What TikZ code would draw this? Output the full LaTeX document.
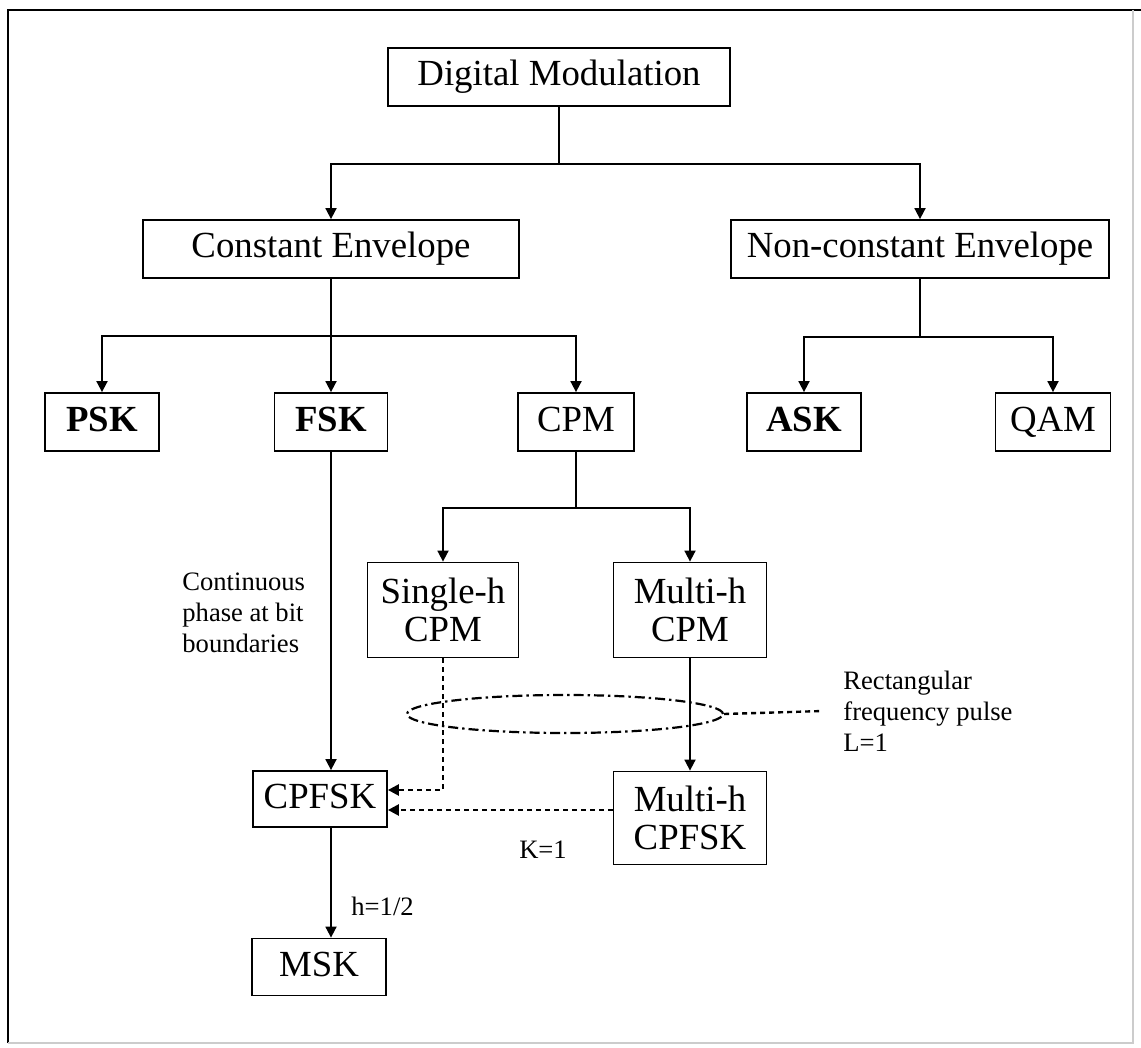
\documentclass[tikz,border=0pt]{standalone}
\usepackage{fontspec}
\setmainfont{Liberation Serif}
\usetikzlibrary{arrows.meta, shapes.geometric}
\newcommand{\boxfont}{\fontsize{18.4}{18.6}\selectfont}
\newcommand{\labfont}{\fontsize{13.3}{15.5}\selectfont}
\tikzset{
  box/.style={draw, line width=0.9pt, inner sep=0pt, align=center, font=\boxfont},
  onebox/.style={box, text height=13pt, text depth=4pt},
  boldbox/.style={onebox, font=\boxfont\bfseries},
  conn/.style={line width=0.9pt, -{Triangle[length=5.5pt,width=5.5pt]}},
  dotconn/.style={line width=1.2pt, dash pattern=on 2.5pt off 2pt, -{Triangle[length=5.5pt,width=5.5pt]}},
  lab/.style={font=\labfont, align=left, inner sep=0pt}
}

\begin{document}
\begin{tikzpicture}[x=0.5pt,y=-0.5pt]
\useasboundingbox (0,0) rectangle (1141,1048);
% frame
\draw[line width=0.8pt] (8,1043) -- (8,10) -- (1141,10);
\draw[gray!40, line width=0.6pt] (1133,10) -- (1133,1043) -- (8,1043);

% boxes
\node[onebox, minimum width=171pt, minimum height=29pt] (dm) at (559,77) {Digital Modulation};
\node[onebox, minimum width=188pt, minimum height=29pt] (ce) at (331,249) {Constant Envelope};
\node[onebox, minimum width=189pt, minimum height=29pt] (nce) at (920,249) {Non-constant Envelope};
\node[boldbox, minimum width=57pt, minimum height=29pt] (psk) at (102,422) {PSK};
\node[boldbox, minimum width=56.5pt, minimum height=29pt] (fsk) at (331,422) {FSK};
\node[onebox, minimum width=58pt, minimum height=29pt] (cpm) at (576,422) {CPM};
\node[boldbox, minimum width=57pt, minimum height=29pt] (ask) at (804,422) {ASK};
\node[onebox, minimum width=57.5pt, minimum height=29pt] (qam) at (1053,422) {QAM};
\node[box, minimum width=75.5pt, minimum height=47.5pt] (single) at (443,610) {Single-h\\CPM};
\node[box, minimum width=76.5pt, minimum height=47.5pt] (multi) at (690,610) {Multi-h\\CPM};
\node[onebox, minimum width=67pt, minimum height=28pt] (cpfsk) at (320,799) {CPFSK};
\node[box, minimum width=76.5pt, minimum height=46.5pt] (mcpfsk) at (690,818) {Multi-h\\CPFSK};
\node[onebox, minimum width=67pt, minimum height=28.5pt] (msk) at (319,967) {MSK};

% tree
\draw[line width=0.9pt] (dm.south) -- ++(0,57) coordinate (j1);
\draw[conn] (j1) -| (ce.north);
\draw[conn] (j1) -| (nce.north);
\draw[conn] (ce.south) -- (fsk.north);
\coordinate (j2) at (331,336);
\draw[conn] (j2) -| (psk.north);
\draw[conn] (j2) -| (cpm.north);
\draw[line width=0.9pt] (nce.south) -- ++(0,58) coordinate (j3);
\draw[conn] (j3) -| (ask.north);
\draw[conn] (j3) -| (qam.north);
\draw[line width=0.9pt] (cpm.south) -- ++(0,56) coordinate (j4);
\draw[conn] (j4) -| (single.north);
\draw[conn] (j4) -| (multi.north);
\draw[conn] (fsk.south) -- (fsk.south |- cpfsk.north);
\draw[conn] (multi.south) -- (mcpfsk.north);
\draw[conn] (cpfsk.south -| fsk.south) -- (msk.north -| fsk.south);

% dotted links
\node[draw, ellipse, line width=1.1pt, dash pattern=on 5pt off 2pt on 1.2pt off 2pt,
  minimum width=158pt, minimum height=19pt, inner sep=0pt] (pulse) at (565,714) {};
\coordinate (k1) at ([yshift=4.5pt]cpfsk.east);
\coordinate (k2) at ([yshift=-5.5pt]cpfsk.east);
\draw[dotconn] (single.south) |- (k1);
\draw[dotconn] (mcpfsk.west |- k2) -- (k2);

% labels
\node[lab, anchor=west] (pulselab) at (843,711) {Rectangular\\frequency pulse\\L=1};
\draw[line width=1.2pt, dash pattern=on 2.5pt off 2pt] (pulse.east) -- ([xshift=-10pt]pulselab.west);
\node[lab, anchor=west] (contlab) at (182,613) {Continuous\\phase at bit\\boundaries};
\node[lab] (klab) at (543,850) {K=1};
\node[lab, anchor=west] (hlab) at (351,906) {h=1/2};
\end{tikzpicture}
\end{document}
